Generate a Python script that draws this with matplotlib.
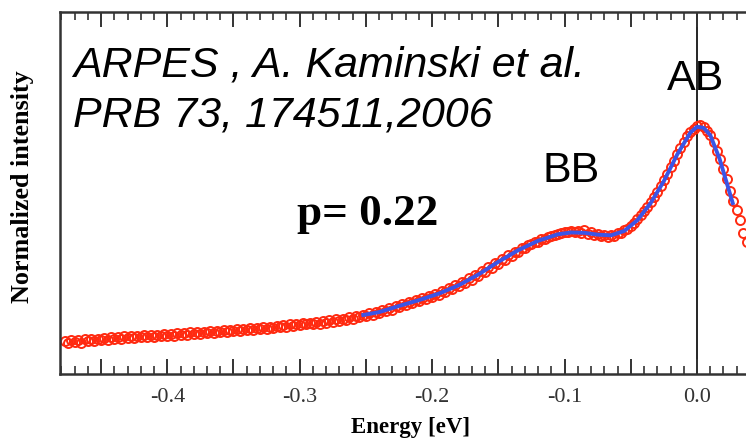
import matplotlib.pyplot as plt
from matplotlib.ticker import MultipleLocator, FuncFormatter

# ARPES energy distribution curve (red circles) and its fit (blue line)
energy = [
    -0.4775, -0.4750, -0.4725, -0.4700, -0.4675, -0.4650, -0.4625, -0.4600, -0.4575, -0.4550,
    -0.4525, -0.4500, -0.4475, -0.4450, -0.4425, -0.4400, -0.4375, -0.4350, -0.4325, -0.4300,
    -0.4275, -0.4250, -0.4225, -0.4200, -0.4175, -0.4150, -0.4125, -0.4100, -0.4075, -0.4050,
    -0.4025, -0.4000, -0.3975, -0.3950, -0.3925, -0.3900, -0.3875, -0.3850, -0.3825, -0.3800,
    -0.3775, -0.3750, -0.3725, -0.3700, -0.3675, -0.3650, -0.3625, -0.3600, -0.3575, -0.3550,
    -0.3525, -0.3500, -0.3475, -0.3450, -0.3425, -0.3400, -0.3375, -0.3350, -0.3325, -0.3300,
    -0.3275, -0.3250, -0.3225, -0.3200, -0.3175, -0.3150, -0.3125, -0.3100, -0.3075, -0.3050,
    -0.3025, -0.3000, -0.2975, -0.2950, -0.2925, -0.2900, -0.2875, -0.2850, -0.2825, -0.2800,
    -0.2775, -0.2750, -0.2725, -0.2700, -0.2675, -0.2650, -0.2625, -0.2600, -0.2575, -0.2550,
    -0.2525, -0.2500, -0.2475, -0.2450, -0.2425, -0.2400, -0.2375, -0.2350, -0.2325, -0.2300,
    -0.2275, -0.2250, -0.2225, -0.2200, -0.2175, -0.2150, -0.2125, -0.2100, -0.2075, -0.2050,
    -0.2025, -0.2000, -0.1975, -0.1950, -0.1925, -0.1900, -0.1875, -0.1850, -0.1825, -0.1800,
    -0.1775, -0.1750, -0.1725, -0.1700, -0.1675, -0.1650, -0.1625, -0.1600, -0.1575, -0.1550,
    -0.1525, -0.1500, -0.1475, -0.1450, -0.1425, -0.1400, -0.1375, -0.1350, -0.1325, -0.1300,
    -0.1275, -0.1250, -0.1225, -0.1200, -0.1175, -0.1150, -0.1125, -0.1100, -0.1075, -0.1050,
    -0.1025, -0.1000, -0.0975, -0.0950, -0.0925, -0.0900, -0.0875, -0.0850, -0.0825, -0.0800,
    -0.0775, -0.0750, -0.0725, -0.0700, -0.0675, -0.0650, -0.0625, -0.0600, -0.0575, -0.0550,
    -0.0525, -0.0500, -0.0475, -0.0450, -0.0425, -0.0400, -0.0375, -0.0350, -0.0325, -0.0300,
    -0.0275, -0.0250, -0.0225, -0.0200, -0.0175, -0.0150, -0.0125, -0.0100, -0.0075, -0.0050,
    -0.0025, 0.0000, 0.0025, 0.0050, 0.0075, 0.0100, 0.0125, 0.0150, 0.0175, 0.0200,
    0.0225, 0.0250, 0.0275, 0.0300, 0.0325, 0.0350, 0.0375,
]
intensity = [
    0.091, 0.086, 0.095, 0.089, 0.094, 0.087, 0.096, 0.091, 0.097, 0.092,
    0.098, 0.093, 0.100, 0.095, 0.101, 0.096, 0.102, 0.097, 0.104, 0.099,
    0.105, 0.100, 0.106, 0.101, 0.107, 0.102, 0.108, 0.103, 0.109, 0.104,
    0.110, 0.105, 0.111, 0.106, 0.112, 0.108, 0.114, 0.109, 0.115, 0.110,
    0.116, 0.111, 0.117, 0.112, 0.118, 0.114, 0.120, 0.115, 0.121, 0.116,
    0.122, 0.118, 0.124, 0.119, 0.125, 0.121, 0.127, 0.122, 0.128, 0.124,
    0.130, 0.125, 0.131, 0.127, 0.133, 0.129, 0.135, 0.131, 0.137, 0.133,
    0.139, 0.135, 0.141, 0.137, 0.142, 0.137, 0.143, 0.139, 0.146, 0.142,
    0.148, 0.144, 0.151, 0.147, 0.153, 0.150, 0.157, 0.153, 0.160, 0.157,
    0.164, 0.161, 0.168, 0.164, 0.172, 0.169, 0.176, 0.173, 0.181, 0.178,
    0.187, 0.184, 0.192, 0.190, 0.198, 0.195, 0.204, 0.201, 0.210, 0.206,
    0.216, 0.213, 0.222, 0.219, 0.229, 0.226, 0.237, 0.234, 0.245, 0.243,
    0.254, 0.252, 0.264, 0.261, 0.274, 0.271, 0.284, 0.282, 0.295, 0.293,
    0.306, 0.305, 0.317, 0.316, 0.328, 0.327, 0.338, 0.338, 0.348, 0.348,
    0.357, 0.358, 0.365, 0.366, 0.372, 0.374, 0.379, 0.381, 0.385, 0.387,
    0.390, 0.392, 0.393, 0.395, 0.391, 0.394, 0.389, 0.398, 0.387, 0.391,
    0.384, 0.388, 0.380, 0.384, 0.379, 0.385, 0.382, 0.389, 0.390, 0.397,
    0.401, 0.410, 0.418, 0.428, 0.438, 0.450, 0.461, 0.474, 0.488, 0.503,
    0.519, 0.535, 0.553, 0.571, 0.589, 0.607, 0.625, 0.642, 0.657, 0.669,
    0.678, 0.685, 0.688, 0.681, 0.672, 0.660, 0.640, 0.617, 0.593, 0.566,
    0.538, 0.505, 0.478, 0.452, 0.425, 0.390, 0.365,
]

fit_energy = [
    -0.252, -0.240, -0.225, -0.210, -0.195, -0.180, -0.165, -0.150, -0.135, -0.120,
    -0.105, -0.095, -0.085, -0.075, -0.065, -0.055, -0.045, -0.035, -0.025, -0.015,
    -0.005, 0.000, 0.005, 0.010, 0.017, 0.027,
]
fit_intensity = [
    0.163, 0.171, 0.188, 0.204, 0.222, 0.245, 0.275, 0.310, 0.342, 0.368,
    0.386, 0.391, 0.390, 0.385, 0.383, 0.395, 0.425, 0.472, 0.533, 0.606,
    0.667, 0.683, 0.680, 0.660, 0.595, 0.472,
]

W, H = 746, 442
fig = plt.figure(figsize=(W / 100, H / 100), dpi=100)
ax = fig.add_axes([60 / W, 1 - 374 / H, 1 - 60 / W, (374 - 12) / H])

ax.plot(energy, intensity, "o", mfc="none", mec="#ff2a10", mew=1.4, ms=6.5, zorder=2)
ax.plot(fit_energy, fit_intensity, "-", color="#3b55e6", lw=2.8, zorder=3)
ax.axvline(0.0, color="black", lw=1.2, zorder=1)

ax.set_xlim(-0.481, 0.037)
ax.set_ylim(0, 1)

serif = "Liberation Serif"
ax.xaxis.set_major_locator(MultipleLocator(0.05))
ax.xaxis.set_minor_locator(MultipleLocator(0.01))
ax.xaxis.set_major_formatter(FuncFormatter(
    lambda v, pos: f"{v:.1f}" if abs(round(v * 10) - v * 10) < 1e-6 else ""))
ax.tick_params(axis="x", which="both", direction="in", top=True, bottom=True,
               labelsize=16, colors="#333333", pad=10)
ax.tick_params(axis="x", which="major", length=11, width=1.4)
ax.tick_params(axis="x", which="minor", length=6, width=1.2)
for lbl in ax.get_xticklabels():
    lbl.set_fontfamily(serif)
ax.set_yticks([])

for side in ("left", "bottom", "top"):
    ax.spines[side].set_linewidth(1.8)
    ax.spines[side].set_color("#333333")
ax.spines["right"].set_visible(False)

fig.text(411 / W, 1 - 428 / H, "Energy [eV]", ha="center", va="center",
         fontfamily=serif, fontweight="bold", fontsize=16.5)
fig.text(23 / W, 1 - 187 / H, "Normalized intensity", rotation=90, ha="center",
         va="center", fontfamily=serif, fontweight="bold", fontsize=18.8)

sans = "Liberation Sans"
fig.text(73 / W, 1 - 77 / H, "ARPES , A. Kaminski et al.", fontfamily=sans,
         style="italic", fontsize=31, va="baseline")
fig.text(73 / W, 1 - 127 / H, "PRB 73, 174511,2006", fontfamily=sans,
         style="italic", fontsize=31, va="baseline")
fig.text(543 / W, 1 - 182 / H, "BB", fontfamily=sans, fontsize=31, va="baseline")
fig.text(667 / W, 1 - 90 / H, "AB", fontfamily=sans, fontsize=31, va="baseline")
fig.text(297 / W, 1 - 225 / H, "p= 0.22", fontfamily=serif, fontweight="bold",
         fontsize=32.5, va="baseline")

fig.savefig("out.png", dpi=100)
